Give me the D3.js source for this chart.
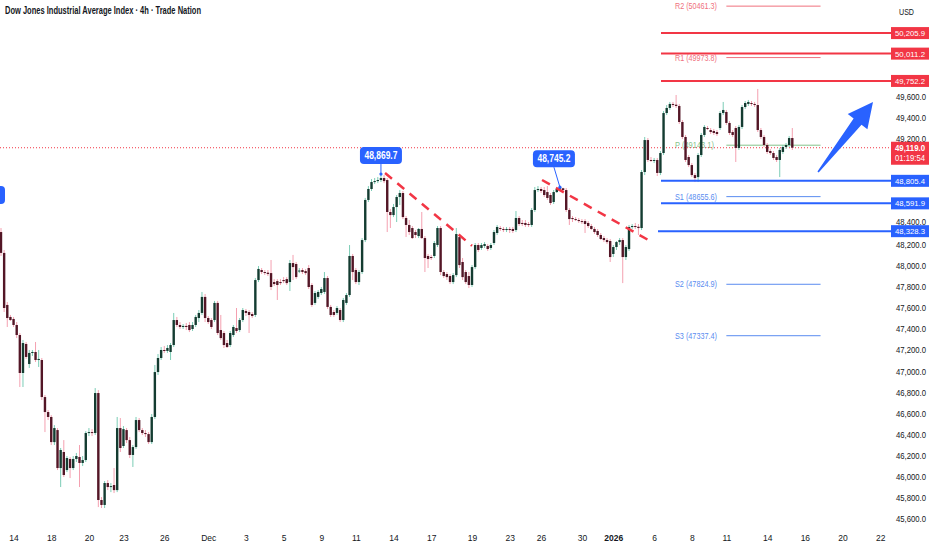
<!DOCTYPE html>
<html>
<head>
<meta charset="utf-8">
<style>
body { margin: 0; background: #fff; }
svg { display: block; font-family: "Liberation Sans", Arial, sans-serif; }
</style>
</head>
<body>
<script src="https://cdn.jsdelivr.net/npm/d3@7"></script>
<script>
// 4h candles, [open, high, low, close]
var candles = [
  [48320,48358,48093,48122],[48122,48150,47562,47600],[47629,47657,47420,47505],[47515,47534,47477,47486],[47496,47515,47420,47439],[47439,47467,47315,47344],
  [47344,47363,46851,46984],[46984,47297,46851,47268],[47259,47278,47117,47136],[47069,47202,47031,47174],[47174,47202,47145,47183],[47183,47278,47088,47107],
  [47107,47202,47041,47117],[47107,47126,46728,46756],[46756,46775,46424,46614],[46614,46633,46538,46567],[46567,46585,46301,46329],[46329,46490,46301,46462],
  [46443,46462,46064,46083],[46083,46273,45903,46254],[46235,46348,45998,46017],[46064,46197,46045,46178],[46169,46188,45988,46083],[46083,46197,46064,46169],
  [46169,46226,46140,46197],[46188,46301,45903,46131],[46131,46197,46102,46159],[46159,46433,46140,46415],[46415,46462,46386,46424],[46424,46452,46386,46415],
  [46415,46841,46396,46794],[46794,46822,45713,45780],[45780,45808,45704,45733],[45733,45960,45704,45941],[45941,45969,45874,45903],[45903,45941,45855,45912],
  [45922,46083,45846,45874],[45874,46567,45855,46462],[46462,46557,46235,46273],[46292,46481,46273,46452],[46443,46462,46320,46348],[46348,46377,46178,46207],
  [46207,46301,46093,46282],[46282,46567,46264,46538],[46538,46557,46424,46443],[46443,46462,46396,46415],[46415,46443,46377,46405],[46405,46424,46311,46329],
  [46329,46595,46311,46567],[46567,47060,46548,46993],[46993,47164,46965,47126],[47126,47230,47107,47202],[47202,47240,47174,47195],[47193,47249,47174,47221],
  [47183,47268,47107,47249],[47249,47553,47230,47486],[47486,47515,47420,47439],[47439,47467,47401,47420],[47420,47448,47401,47430],[47430,47458,47391,47420],
  [47439,47467,47372,47391],[47401,47467,47382,47439],[47439,47534,47420,47515],[47505,47581,47467,47553],[47553,47752,47534,47705],[47705,47733,47467,47505],
  [47505,47524,47448,47467],[47486,47505,47401,47420],[47486,47667,47467,47648],[47648,47667,47344,47363],[47391,47534,47297,47315],[47363,47382,47221,47249],
  [47268,47297,47221,47230],[47249,47382,47230,47363],[47344,47439,47325,47420],[47410,47600,47363,47382],[47391,47505,47372,47486],[47486,47600,47467,47581],
  [47572,47591,47524,47553],[47562,47581,47363,47534],[47543,47562,47505,47524],[47534,47884,47515,47865],[47865,47998,47846,47970],[47960,47979,47922,47941],
  [47941,47960,47913,47935],[47935,47960,47903,47922],[47931,48055,47770,47799],[47846,47874,47808,47827],[47855,47874,47676,47818],[47846,47874,47818,47836],
  [47865,47893,47836,47855],[47874,47893,47818,47836],[47846,48055,47761,48026],[48026,48103,47865,47988],[48017,48036,47874,47893],[47950,47979,47931,47955],
  [47960,47979,47922,47941],[47950,47969,47913,47931],[47979,48007,47780,47799],[47818,47836,47610,47629],[47648,47761,47629,47742],[47705,47770,47686,47752],
  [47742,47799,47723,47780],[47752,47941,47733,47884],[47884,47903,47591,47610],[47610,47629,47515,47534],[47562,47581,47515,47534],[47553,47619,47534,47600],
  [47581,47600,47467,47486],[47486,47695,47467,47676],[47648,47742,47629,47723],[47723,48197,47705,48093],[48093,48112,47865,47941],[47960,47979,47827,47846],
  [47846,47960,47818,47941],[47941,48263,47922,48244],[48244,48643,48225,48624],[48624,48756,48605,48728],[48728,48822,48709,48794],[48794,48832,48775,48803],
  [48803,48841,48784,48813],[48813,48869.7,48794,48832],[48832,48860,48784,48803],[48813,48832,48320,48510],[48510,48538,48358,48481],[48481,48586,48462,48557],
  [48557,48671,48415,48652],[48652,48718,48576,48690],[48690,48709,48443,48462],[48453,48472,48273,48387],[48387,48434,48292,48320],[48358,48377,48254,48263],
  [48320,48339,48263,48292],[48282,48358,48263,48349],[48349,48510,48254,48263],[48263,48282,47941,48074],[48093,48112,47979,48064],[48083,48103,48055,48074],
  [48093,48235,48074,48216],[48197,48377,48178,48358],[48358,48377,47912,47941],[47941,47960,47884,47903],[47922,47941,47865,47893],[47903,47922,47827,47846],
  [47846,47931,47827,47912],[47912,48358,47893,48301],[48272,48292,47979,48007],[48036,48074,47865,47893],[47941,47960,47827,47846],[47903,47941,47789,47818],
  [47818,48007,47799,47988],[47988,48216,47969,48197],[48197,48216,48131,48150],[48169,48216,48150,48197],[48188,48225,48169,48206],[48188,48206,48140,48159],
  [48169,48216,48150,48197],[48216,48339,48197,48320],[48311,48387,48292,48368],[48358,48377,48330,48349],[48349,48368,48320,48339],[48339,48368,48320,48349],
  [48349,48368,48311,48339],[48349,48368,48311,48330],[48339,48519,48320,48453],[48453,48472,48377,48396],[48406,48434,48377,48396],[48406,48434,48368,48387],
  [48396,48415,48368,48387],[48387,48548,48368,48529],[48529,48747,48510,48718],[48718,48756,48699,48728],[48728,48747,48690,48709],[48718,48747,48652,48671],
  [48699,48756,48624,48643],[48671,48690,48576,48595],[48605,48718,48586,48699],[48699,48740,48690,48728],[48728,48745.2,48709,48735],[48735,48740,48699,48718],
  [48718,48737,48510,48529],[48529,48548,48387,48443],[48453,48472,48415,48443],[48443,48462,48424,48434],[48434,48453,48406,48424],[48424,48443,48396,48415],
  [48424,48443,48311,48396],[48406,48424,48358,48377],[48377,48396,48339,48349],[48349,48368,48301,48320],[48330,48349,48273,48292],[48292,48311,48244,48254],
  [48263,48282,48225,48244],[48244,48263,48206,48225],[48235,48254,48036,48083],[48112,48197,48083,48178],[48178,48235,48150,48225],[48225,48263,48197,48244],
  [48244,48263,47836,48083],[48083,48197,48055,48178],[48159,48387,48140,48368],[48368,48396,48349,48377],[48377,48406,48349,48370],[48370,48396,48292,48358],
  [48358,48908,48339,48889],[48889,49221,48860,49192],[49192,49211,48984,49003],[49003,49031,48984,48996],[48996,49022,48974,49003],[49003,49022,48851,48880],
  [48880,49088,48860,49069],[49069,49467,49050,49448],[49448,49524,49429,49496],[49496,49553,49477,49534],[49534,49553,49505,49527],[49527,49619,49496,49515],
  [49515,49534,49344,49363],[49363,49382,49202,49221],[49221,49240,48984,49003],[49031,49050,48936,48955],[48955,48974,48841,48860],[48860,48880,48794,48832],
  [48841,49069,48794,49050],[49050,49259,49031,49240],[49240,49334,49221,49316],[49306,49325,49287,49297],[49287,49306,49249,49268],[49278,49297,49240,49259],
  [49268,49287,49230,49249],[49306,49467,49287,49448],[49448,49553,49429,49477],[49458,49477,49335,49354],[49354,49373,49240,49259],[49268,49287,49221,49240],
  [49306,49325,48984,49117],[49117,49335,49098,49316],[49316,49524,49297,49505],[49505,49562,49486,49543],[49534,49572,49515,49553],[49543,49562,49515,49534],
  [49534,49553,49505,49524],[49524,49676,49268,49287],[49287,49306,49202,49221],[49221,49240,49126,49145],[49145,49164,49060,49079],[49088,49107,49050,49069],
  [49069,49088,49003,49022],[49031,49050,48984,49003],[49003,49117,48841,49098],[49079,49145,49060,49126],[49126,49164,49107,49145],[49145,49230,49126,49211],
  [49211,49306,49098,49119]
];

var priceTicks = d3.range(45600, 50201, 200);
var dateLabels = ["14","18","20","23","26","Dec","3","5","9","11","14","17","19","23","26","30","2026","6","8","11","14","16","20","22"];
var dateBars   = [4,16,28,39,52,66,78,90,102,113,125,137,150,162,172,185,195,208,220,231,244,256,268,280];

var levelsRed  = [50205.9, 50011.2, 49752.2];
var levelsBlue = [48805.4, 48591.9, 48328.3];
var pivotNames  = ["R2","R1","P","S1","S2","S3"];
var pivotValues = [50461.3, 49973.8, 49143.1, 48655.6, 47824.9, 47337.4];
var lastPrice = 49119.0;
var countdown = "01:19:54";
var peakBars   = [121, 178];
var peakValues = [48869.7, 48745.2];
// trend lines and arrow, [bar, price]
var trendA = [[122.3, 48880], [150, 48190]];
var trendB = [[172.3, 48813], [207.3, 48225]];
var arrowPts = [[260.2, 48889], [277.7, 49553]];

var width = 932, height = 550;
var axisX = 891;

var svg = d3.select("body").append("svg")
  .attr("width", width)
  .attr("height", height);

var x = d3.scaleLinear().domain([0, candles.length - 1]).range([1, 792.3]);
var y = d3.scaleLinear().domain([45600, 49600]).range([519, 97]);
var fmt = d3.format(",.1f");

var pivotColor = function(n) {
  if (n[0] == "R") return "#f0707d";
  if (n[0] == "P") return "#86c38a";
  return "#5a8cf0";
};

// title
svg.append("text")
  .attr("x", 5).attr("y", 14)
  .attr("font-size", 10).attr("font-weight", 700)
  .attr("fill", "#131722")
  .attr("textLength", 196).attr("lengthAdjust", "spacingAndGlyphs")
  .text("Dow Jones Industrial Average Index \u00b7 4h \u00b7 Trade Nation");

// pivot points
var pv = svg.append("g").attr("class", "pivots");
pivotNames.forEach(function(n, i) {
  var py = y(pivotValues[i]);
  pv.append("line")
    .attr("x1", x(231)).attr("x2", x(261))
    .attr("y1", py).attr("y2", py)
    .attr("stroke", pivotColor(n)).attr("stroke-width", 1);
  pv.append("text")
    .attr("x", 675).attr("y", py + 3)
    .attr("font-size", 8.5)
    .attr("fill", pivotColor(n))
    .attr("textLength", n == "P" ? 39 : 42).attr("lengthAdjust", "spacingAndGlyphs")
    .text(n + " (" + pivotValues[i].toFixed(1) + ")");
});

// current price dotted line
svg.append("line")
  .attr("x1", 0).attr("x2", axisX)
  .attr("y1", y(lastPrice)).attr("y2", y(lastPrice))
  .attr("stroke", "#f23645").attr("stroke-width", 1)
  .attr("stroke-dasharray", "1,2");

// candles
var cg = svg.append("g").attr("class", "candles");
candles.forEach(function(d, i) {
  var up = d[3] >= d[0];
  var cx = x(i);
  cg.append("line")
    .attr("x1", cx).attr("x2", cx)
    .attr("y1", y(d[1])).attr("y2", y(d[2]))
    .attr("stroke", up ? "#7ccdb6" : "#f4a0b0")
    .attr("stroke-width", 1);
  var top = y(Math.max(d[0], d[3])), bot = y(Math.min(d[0], d[3]));
  cg.append("rect")
    .attr("x", cx - 1.2).attr("width", 2.4)
    .attr("y", top).attr("height", Math.max(1, bot - top))
    .attr("fill", up ? "#143c31" : "#531626");
});

// horizontal levels
levelsRed.forEach(function(v) {
  svg.append("line")
    .attr("x1", 661).attr("x2", axisX)
    .attr("y1", y(v)).attr("y2", y(v))
    .attr("stroke", "#f23645").attr("stroke-width", 2);
});
levelsBlue.forEach(function(v, i) {
  svg.append("line")
    .attr("x1", i == 2 ? 658 : 661).attr("x2", axisX)
    .attr("y1", y(v)).attr("y2", y(v))
    .attr("stroke", "#2962ff").attr("stroke-width", 2);
});

// dashed trend lines
[trendA, trendB].forEach(function(t) {
  svg.append("line")
    .attr("x1", x(t[0][0])).attr("y1", y(t[0][1]))
    .attr("x2", x(t[1][0])).attr("y2", y(t[1][1]))
    .attr("stroke", "#f23645").attr("stroke-width", 2.5)
    .attr("stroke-dasharray", "9,7");
});

// peak callouts
var offs = [[0, -10], [-6, -20]];
peakBars.forEach(function(b, i) {
  var px = x(b), py = y(peakValues[i]);
  var bx = px + offs[i][0], by = py + offs[i][1];
  svg.append("line")
    .attr("x1", bx).attr("y1", by)
    .attr("x2", px).attr("y2", py)
    .attr("stroke", "#2962ff").attr("stroke-width", 1);
  svg.append("circle").attr("cx", px).attr("cy", py).attr("r", 1.6).attr("fill", "#2962ff");
  svg.append("rect")
    .attr("x", bx - 21).attr("y", by - 17)
    .attr("width", 42).attr("height", 17).attr("rx", 4)
    .attr("fill", "#2962ff");
  svg.append("text")
    .attr("x", bx).attr("y", by - 5)
    .attr("text-anchor", "middle")
    .attr("font-size", 10).attr("font-weight", 600)
    .attr("fill", "#fff")
    .attr("textLength", 33).attr("lengthAdjust", "spacingAndGlyphs")
    .text(fmt(peakValues[i]));
});
// callout cut off at the left edge
svg.append("rect")
  .attr("x", -30).attr("y", 186).attr("width", 35).attr("height", 18).attr("rx", 4)
  .attr("fill", "#2962ff");

// arrow
var ax0 = x(arrowPts[0][0]), ay0 = y(arrowPts[0][1]);
var ax1 = x(arrowPts[1][0]), ay1 = y(arrowPts[1][1]);
var len = Math.hypot(ax1 - ax0, ay1 - ay0);
var ux = (ax1 - ax0) / len, uy = (ay1 - ay0) / len;
var nx = -uy, ny = ux;
var hb = [ax1 - ux * 25, ay1 - uy * 25];
var arrowPoly = [
  [ax0 + nx * 0.8, ay0 + ny * 0.8],
  [hb[0] + nx * 5, hb[1] + ny * 5],
  [hb[0] + nx * 12.5, hb[1] + ny * 12.5],
  [ax1, ay1],
  [hb[0] - nx * 12.5, hb[1] - ny * 12.5],
  [hb[0] - nx * 5, hb[1] - ny * 5],
  [ax0 - nx * 0.8, ay0 - ny * 0.8]
];
svg.append("polygon")
  .attr("points", arrowPoly.map(function(p) { return p.join(","); }).join(" "))
  .attr("fill", "#2962ff");

// price axis, labels hidden behind tags are left out
var tagPrices = levelsRed.concat(levelsBlue);
var shownTicks = priceTicks.filter(function(t) {
  var ty = y(t);
  if (ty > y(lastPrice) - 8 && ty < y(lastPrice) + 19) return false;
  return tagPrices.every(function(v) { return Math.abs(y(v) - ty) > 7; });
});
var yAxis = svg.append("g")
  .attr("transform", "translate(" + (axisX + 2) + ",0)")
  .call(d3.axisRight(y).tickValues(shownTicks).tickFormat(fmt).tickSize(0).tickPadding(3));
yAxis.select(".domain").remove();
yAxis.selectAll("text").attr("font-size", 8.5).attr("fill", "#131722")
  .attr("dy", function(d) { return d == 48400 ? "0.1em" : "0.32em"; })
  .attr("textLength", 30).attr("lengthAdjust", "spacingAndGlyphs");

svg.append("text")
  .attr("x", 899).attr("y", 15)
  .attr("font-size", 8.5).attr("fill", "#131722")
  .attr("textLength", 15).attr("lengthAdjust", "spacingAndGlyphs")
  .text("USD");

// level tags on the axis
function axisTag(v, col) {
  var ty = y(v);
  svg.append("rect")
    .attr("x", axisX).attr("y", ty - 6)
    .attr("width", 38).attr("height", 12)
    .attr("fill", col);
  svg.append("text")
    .attr("x", axisX + 4).attr("y", ty + 3)
    .attr("font-size", 8).attr("fill", "#fff")
    .attr("textLength", 30).attr("lengthAdjust", "spacingAndGlyphs")
    .text(fmt(v));
}
levelsRed.forEach(function(v) { axisTag(v, "#f23645"); });
levelsBlue.forEach(function(v) { axisTag(v, "#2962ff"); });

// last price tag with countdown
var ly = y(lastPrice);
svg.append("rect")
  .attr("x", axisX).attr("y", ly - 6)
  .attr("width", 38).attr("height", 23)
  .attr("fill", "#f23645");
svg.append("text")
  .attr("x", axisX + 4).attr("y", ly + 3.2)
  .attr("font-size", 8.5).attr("font-weight", 700).attr("fill", "#fff")
  .attr("textLength", 30).attr("lengthAdjust", "spacingAndGlyphs")
  .text(fmt(lastPrice));
svg.append("text")
  .attr("x", axisX + 4).attr("y", ly + 13)
  .attr("font-size", 8.5).attr("fill", "#fff")
  .attr("textLength", 30).attr("lengthAdjust", "spacingAndGlyphs")
  .text(countdown);

// time axis
var xAxis = svg.append("g")
  .attr("transform", "translate(0,532)")
  .call(d3.axisBottom(x).tickValues(dateBars).tickFormat(function(d, i) { return dateLabels[i]; }).tickSize(0).tickPadding(3));
xAxis.select(".domain").remove();
xAxis.selectAll("text").attr("font-size", 8.5).attr("fill", "#131722")
  .attr("font-weight", function(d, i) { return dateLabels[i] == "2026" ? 700 : 400; });
</script>
</body>
</html>
